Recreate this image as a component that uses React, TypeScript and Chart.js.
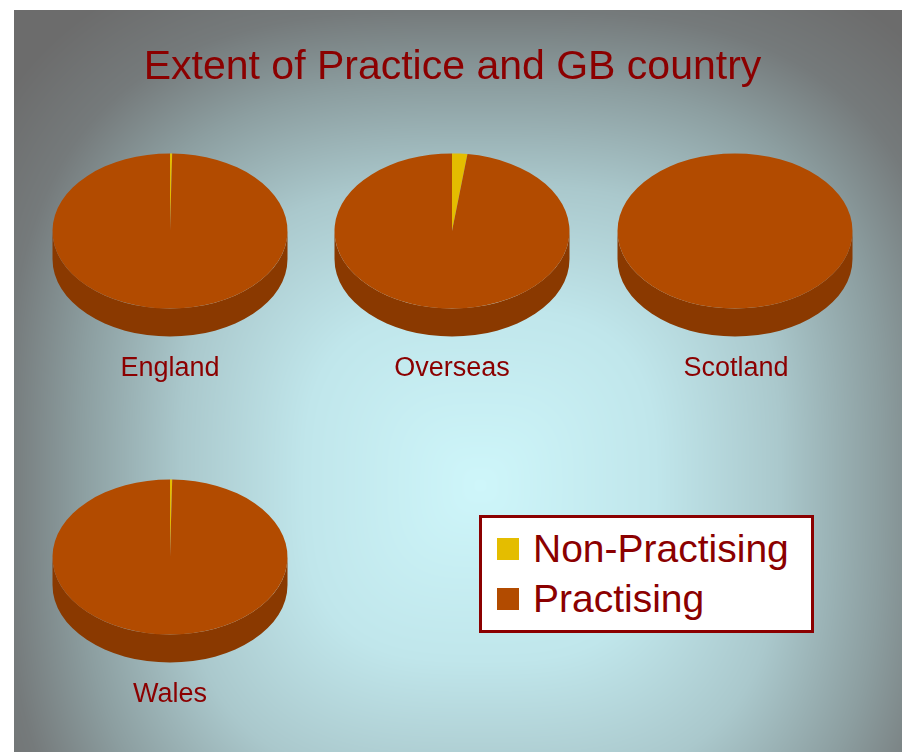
import React, { useEffect, useRef } from "react";
import { Chart, registerables } from "chart.js";

Chart.register(...registerables);

// ---- data ----
const chartTitle = "Extent of Practice and GB country";
const countries = ["England", "Overseas", "Scotland", "Wales"];
const seriesLabels = ["Non-Practising", "Practising"];
const nonPractising = [0.3, 2.1, 0, 0.3];
const practising = [99.7, 97.9, 100, 99.7];

// ---- styles ----
const topColors = ["#E4BD00", "#B24B00"];
const sideColors = ["#A88A00", "#8A3900"];
const textColor = "#8B0000";
const FONT = '"Liberation Sans", Arial, Helvetica, sans-serif';

// panel is at page (14,10); pie canvases are 240x240, center at (120,120)
const piePos = [
  { left: 36, top: 101 },
  { left: 318, top: 101 },
  { left: 601, top: 101 },
  { left: 36, top: 427 },
];

const pie3d = {
  id: "pie3d",
  beforeDatasetsDraw(chart: any, _args: any, opts: any) {
    const meta = chart.getDatasetMeta(0);
    const arcs = meta.data;
    const ctx = chart.ctx;
    const k = opts.tilt;
    const depth = opts.depth;
    if (!arcs.length) {
      ctx.save();
      return;
    }
    const p0 = arcs[0].getProps(["x", "y", "outerRadius"], true);
    const cx = p0.x, cy = p0.y, R = p0.outerRadius;
    ctx.save();
    ctx.translate(cx, cy);
    ctx.scale(1, k);
    const d = depth / k;
    arcs.forEach((arc: any, i: number) => {
      const { startAngle, endAngle } = arc.getProps(["startAngle", "endAngle"], true);
      for (const off of [-2 * Math.PI, 0, 2 * Math.PI]) {
        const a = Math.max(startAngle, off);
        const b = Math.min(endAngle, Math.PI + off);
        if (b > a) {
          ctx.beginPath();
          ctx.arc(0, 0, R, a, b);
          ctx.arc(0, d, R, b, a, true);
          ctx.closePath();
          ctx.fillStyle = sideColors[i];
          ctx.fill();
        }
      }
    });
    ctx.restore();
    ctx.save();
    ctx.translate(cx, cy);
    ctx.scale(1, k);
    ctx.translate(-cx, -cy);
  },
  afterDatasetsDraw(chart: any) {
    chart.ctx.restore();
  },
};

function PieChart({ idx }: { idx: number }) {
  const ref = useRef<HTMLCanvasElement>(null);
  useEffect(() => {
    const chart = new Chart(ref.current!, {
      type: "pie",
      data: {
        labels: seriesLabels,
        datasets: [
          {
            data: [nonPractising[idx], practising[idx]],
            backgroundColor: topColors,
            borderWidth: 0,
            radius: 117.5,
            clip: false,
          } as any,
        ],
      },
      options: {
        responsive: false,
        animation: false,
        events: [],
        layout: { padding: 0 },
        plugins: {
          legend: { display: false },
          tooltip: { enabled: false },
          title: { display: false },
          pie3d: { tilt: 0.66, depth: 28 },
        } as any,
      },
      plugins: [pie3d as any],
    });
    return () => chart.destroy();
  }, [idx]);
  return (
    <canvas
      ref={ref}
      width={240}
      height={240}
      style={{ position: "absolute", left: piePos[idx].left, top: piePos[idx].top, width: 240, height: 240 }}
    />
  );
}

const ramp: [number, number[]][] = [
  [0, [206, 246, 250]],
  [0.35, [192, 230, 235]],
  [0.6, [170, 200, 204]],
  [0.8, [140, 158, 160]],
  [0.95, [117, 122, 123]],
  [1.1, [108, 108, 108]],
];

function rampColor(t: number) {
  if (t <= ramp[0][0]) return ramp[0][1];
  for (let i = 1; i < ramp.length; i++) {
    if (t <= ramp[i][0]) {
      const [t0, c0] = ramp[i - 1];
      const [t1, c1] = ramp[i];
      const f = (t - t0) / (t1 - t0);
      return [0, 1, 2].map((j) => c0[j] + (c1[j] - c0[j]) * f);
    }
  }
  return ramp[ramp.length - 1][1];
}

function Background() {
  const ref = useRef<HTMLCanvasElement>(null);
  useEffect(() => {
    const c = ref.current!;
    const ctx = c.getContext("2d")!;
    const W = c.width, H = c.height;
    const img = ctx.createImageData(W, H);
    const cx = 466, cy = 475, a = 500, b = 500, p = 3;
    for (let y = 0; y < H; y++) {
      for (let x = 0; x < W; x++) {
        const dx = Math.abs(x - cx) / a;
        const dy = Math.abs(y - cy) / b;
        const t = Math.pow(Math.pow(dx, p) + Math.pow(dy, p), 1 / p);
        const col = rampColor(t);
        const o = (y * W + x) * 4;
        img.data[o] = col[0];
        img.data[o + 1] = col[1];
        img.data[o + 2] = col[2];
        img.data[o + 3] = 255;
      }
    }
    ctx.putImageData(img, 0, 0);
  }, []);
  return <canvas ref={ref} width={888} height={742} style={{ position: "absolute", left: 0, top: 0 }} />;
}

export default function App() {
  const labelTops = [344, 344, 344, 670];
  const labelCenters = [156, 438, 722, 156];
  return (
    <div
      style={{
        position: "absolute",
        left: 14,
        top: 10,
        width: 888,
        height: 742,
        overflow: "hidden",
        fontFamily: FONT,
      }}
    >
      <Background />
      <div
        style={{
          position: "absolute",
          left: 0,
          top: 34.6,
          width: 877,
          textAlign: "center",
          fontSize: 41,
          lineHeight: "41px",
          color: textColor,
          whiteSpace: "nowrap",
        }}
      >
        {chartTitle}
      </div>
      {countries.map((c, i) => (
        <PieChart key={c} idx={i} />
      ))}
      {countries.map((c, i) => (
        <div
          key={"l" + c}
          style={{
            position: "absolute",
            left: labelCenters[i] - 100,
            width: 200,
            top: labelTops[i],
            textAlign: "center",
            fontSize: 27,
            lineHeight: "27px",
            color: textColor,
            whiteSpace: "nowrap",
          }}
        >
          {c}
        </div>
      ))}
      <div
        style={{
          position: "absolute",
          left: 465,
          top: 505,
          width: 335,
          height: 118,
          boxSizing: "border-box",
          border: `3px solid ${textColor}`,
          background: "#FFFFFF",
        }}
      >
        {seriesLabels.map((s, i) => (
          <React.Fragment key={s}>
            <div
              style={{
                position: "absolute",
                left: 15,
                top: 20 + i * 50,
                width: 22,
                height: 22,
                background: topColors[i],
              }}
            />
            <div
              style={{
                position: "absolute",
                left: 51,
                top: 10.7 + i * 50,
                fontSize: 39,
                lineHeight: "39px",
                color: textColor,
                whiteSpace: "nowrap",
              }}
            >
              {s}
            </div>
          </React.Fragment>
        ))}
      </div>
    </div>
  );
}
